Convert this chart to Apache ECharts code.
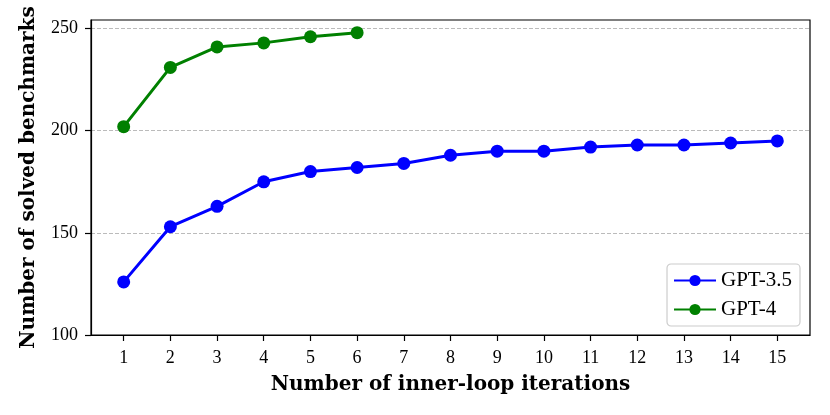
<!DOCTYPE html>
<html>
<head>
<meta charset="utf-8">
<script src="https://cdn.jsdelivr.net/npm/echarts@6/dist/echarts.min.js"></script>
<style>
html, body { margin: 0; padding: 0; background: #fff; }
#chart { width: 830px; height: 415px; }
</style>
</head>
<body>
<div id="chart"></div>
<script>
// 数据
var iterations = [1, 2, 3, 4, 5, 6, 7, 8, 9, 10, 11, 12, 13, 14, 15];
var gpt35 = [126, 153, 163, 175, 180, 182, 184, 188, 190, 190, 192, 193, 193, 194, 195];
var gpt4 = [202, 231, 241, 243, 246, 248];
var yTicks = [100, 150, 200, 250];

function pairs(ys) {
	var out = [];
	for (var i = 0; i < ys.length; i++) {
		out.push([iterations[i], ys[i]]);
	}
	return out;
}

var chart = echarts.init(document.getElementById('chart'));
var font = 'Liberation Serif';
var nameFont = 'DejaVu Serif';

var option = {
	animation: false,
	grid: {
		left: 91,
		right: 20,
		top: 20,
		bottom: 80,
		show: true,
		borderColor: '#000',
		borderWidth: 1.2
	},
	legend: {
		orient: 'vertical',
		right: 30,
		bottom: 89,
		data: ['GPT-3.5', 'GPT-4'],
		itemWidth: 42,
		itemHeight: 14,
		itemGap: 8,
		padding: [6, 8, 6, 6],
		borderColor: '#ccc',
		borderWidth: 1.2,
		borderRadius: 4,
		backgroundColor: '#fff',
		textStyle: { fontFamily: font, fontSize: 21, color: '#000' }
	},
	xAxis: {
		type: 'value',
		min: 0.3,
		max: 15.7,
		name: 'Number of inner-loop iterations',
		nameLocation: 'middle',
		nameGap: 40,
		nameTextStyle: { fontFamily: nameFont, fontSize: 20, fontWeight: 'bold', color: '#000' },
		axisLine: { lineStyle: { color: '#000', width: 1.2 } },
		axisTick: { length: 6, lineStyle: { color: '#000', width: 1.2 }, customValues: iterations },
		axisLabel: { customValues: iterations, margin: 14, fontFamily: font, fontSize: 18, color: '#000' },
		splitLine: { show: false }
	},
	yAxis: {
		type: 'value',
		min: 100,
		max: 254.2,
		name: 'Number of solved benchmarks',
		nameLocation: 'middle',
		nameGap: 52,
		nameTextStyle: { fontFamily: nameFont, fontSize: 20, fontWeight: 'bold', color: '#000' },
		axisLine: { show: true, lineStyle: { color: '#000', width: 1.2 } },
		axisTick: { show: true, length: 6, lineStyle: { color: '#000', width: 1.2 }, customValues: yTicks },
		axisLabel: { customValues: yTicks, margin: 13, fontFamily: font, fontSize: 18, color: '#000' },
		splitLine: { show: true, lineStyle: { color: '#aaa', type: [4, 2], width: 0.8 } }
	},
	series: [
		{
			name: 'GPT-3.5',
			type: 'line',
			data: pairs(gpt35),
			symbol: 'circle',
			symbolSize: 13,
			color: '#0000ff',
			lineStyle: { width: 3, color: '#0000ff' },
			itemStyle: { color: '#0000ff' }
		},
		{
			name: 'GPT-4',
			type: 'line',
			data: pairs(gpt4),
			symbol: 'circle',
			symbolSize: 13,
			color: '#008000',
			lineStyle: { width: 3, color: '#008000' },
			itemStyle: { color: '#008000' }
		}
	]
};
chart.setOption(option);
</script>
</body>
</html>
